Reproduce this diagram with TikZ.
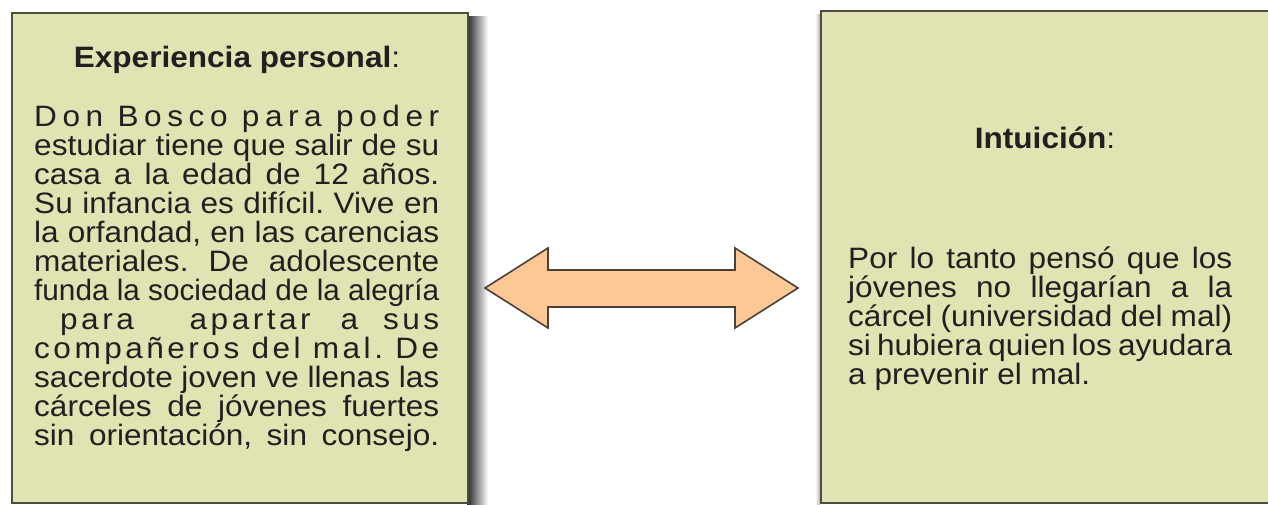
\documentclass[tikz,border=0pt]{standalone}
\usepackage{fontspec}
\usepackage{graphicx}
\setmainfont{Liberation Sans}[FakeStretch=1.07]
\definecolor{boxfill}{HTML}{E1E3B2}
\definecolor{boxline}{HTML}{4E4E3C}
\definecolor{arrowfill}{HTML}{FDC895}
\definecolor{arrowline}{HTML}{4A4038}
\definecolor{txt}{HTML}{231F20}
\newcommand{\jl}[2]{\makebox[#1][s]{#2}}
\newcommand{\lk}{\kern3.5pt}
\newcommand{\wg}[1]{\hskip 0pt plus #1fil}
\begin{document}
\frenchspacing
\begin{tikzpicture}[x=1pt,y=-1pt,
  box/.style={draw=boxline, line width=2.2pt, fill=boxfill, inner sep=0pt, anchor=north west},
  bodytext/.style={font=\fontsize{29.5}{29}\selectfont\frenchspacing, text=txt, inner sep=0pt, anchor=north west, align=left},
  titletext/.style={font=\fontsize{29.5}{29}\selectfont, text=txt, inner sep=0pt, anchor=base},
  blockarrow/.style={draw=arrowline, line width=1.6pt, fill=arrowfill, line join=miter}]
\useasboundingbox (0,0) rectangle (1268,504);
% shadows
\shade[left color=black!85, right color=white] (467,16) rectangle (488,504);
\shade[left color=white, right color=black!30] (815,14) rectangle (820,504);
% boxes
\node[box, minimum width=456pt, minimum height=490pt] (exp) at (11,12) {};
\node[box, minimum width=470pt, minimum height=492pt] (int) at (820,10) {};
% titles
\node[titletext] (expt) at (237,67) {\textbf{Experiencia personal}:};
\node[titletext] (intt) at (1045,148) {\textbf{Intuición}:};
% body left
\node[bodytext] (expb) at (34,104.5) {%
\jl{405pt}{D\hfil o\hfil n\ \hfil B\hfil o\hfil s\hfil c\hfil o\ \hfil p\hfil a\hfil r\hfil a\ \hfil p\hfil o\hfil d\hfil e\hfil r}\\
\jl{405pt}{estudiar tiene que salir de su}\\
\jl{405pt}{casa a la edad de 12 años.}\\
\jl{405pt}{Su infancia es difícil. Vive en}\\
\jl{405pt}{la orfandad, en las carencias}\\
\jl{405pt}{materiales. De adolescente}\\
\resizebox{405pt}{\height}{funda la sociedad de la alegría}\\
\jl{405pt}{\hspace*{26pt}p\lk a\lk r\lk a\wg{56}a\lk p\lk a\lk r\lk t\lk a\lk r\wg{30}a\wg{25}s\lk u\lk s}\\
\jl{405pt}{c\hfil o\hfil m\hfil p\hfil a\hfil ñ\hfil e\hfil r\hfil o\hfil s\ \hfil d\hfil e\hfil l\ \hfil m\hfil a\hfil l\hfil .\ \hfil D\hfil e}\\
\jl{405pt}{sacerdote joven ve llenas las}\\
\jl{405pt}{cárceles de jóvenes fuertes}\\
\jl{405pt}{sin orientación, sin consejo.}};
% body right
\node[bodytext] (intb) at (848,246.5) {%
\jl{384pt}{Por lo tanto pensó que los}\\
\jl{384pt}{jóvenes no llegarían a la}\\
\jl{384pt}{cárcel (universidad del mal)}\\
\jl{384pt}{si hubiera quien los ayudara}\\
a prevenir el mal.};
% double block arrow
\draw[blockarrow] (485,288) -- (548,248) -- (548,270) -- (735,270) -- (735,248) -- (798,288)
  -- (735,328) -- (735,307) -- (548,307) -- (548,328) -- cycle;
\end{tikzpicture}
\end{document}
